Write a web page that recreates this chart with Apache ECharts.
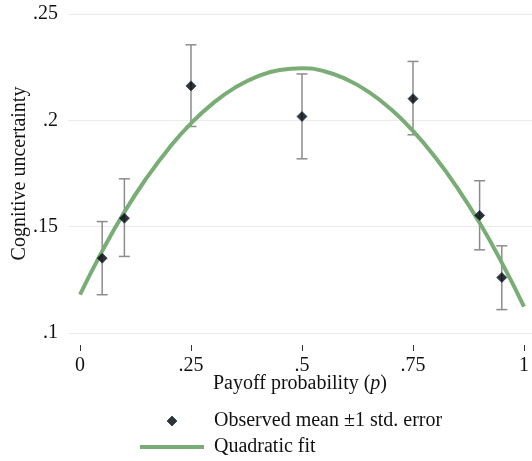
<!DOCTYPE html>
<html>
<head>
<meta charset="utf-8">
<script src="https://cdn.jsdelivr.net/npm/echarts@6/dist/echarts.min.js"></script>
<style>
html,body{margin:0;padding:0;background:#fff;}
#chart{width:532px;height:461px;}
</style>
</head>
<body>
<div id="chart"></div>
<script>
// Observed means with ±1 std. error
const pValues = [0.05, 0.10, 0.25, 0.50, 0.75, 0.90, 0.95];
const meanValues = [0.1352, 0.1540, 0.2162, 0.2018, 0.2102, 0.1553, 0.1261];
const upperValues = [0.1524, 0.1725, 0.2355, 0.2218, 0.2277, 0.1716, 0.1410];
const lowerValues = [0.1180, 0.1360, 0.1971, 0.1819, 0.1932, 0.1391, 0.1110];

// Quadratic fit curve
const fitP = [0, 0.05, 0.10, 0.15, 0.20, 0.25, 0.30, 0.35, 0.40, 0.45, 0.50, 0.55, 0.60, 0.65, 0.70, 0.75, 0.80, 0.85, 0.90, 0.95, 1.00];
const fitValues = [0.1180, 0.1385, 0.1569, 0.1729, 0.1868, 0.1986, 0.2081, 0.2155, 0.2207, 0.2237, 0.2245, 0.2231, 0.2193, 0.2134, 0.2053, 0.1950, 0.1826, 0.1682, 0.1518, 0.1331, 0.1124];

// Tick labels
const xTickValues = [0, 0.25, 0.5, 0.75, 1];
const xTickLabels = ['0', '.25', '.5', '.75', '1'];
const yTickValues = [0.1, 0.15, 0.2, 0.25];
const yTickLabels = ['.1', '.15', '.2', '.25'];

const seriesNames = ['Observed mean \u00b11 std. error', 'Quadratic fit'];
const xTitle = 'Payoff probability ({i|p})';
const yTitle = 'Cognitive uncertainty';

const FONT = 'Liberation Serif';
const FS = 20;

function lookup(values, labels, v) {
  for (let i = 0; i < values.length; i++) {
    if (Math.abs(values[i] - v) < 1e-6) return labels[i];
  }
  return '';
}

const chart = echarts.init(document.getElementById('chart'), null, {renderer: 'canvas'});

const errData = pValues.map((p, i) => [p, lowerValues[i], upperValues[i]]);
const meanData = pValues.map((p, i) => [p, meanValues[i]]);
const fitData = fitP.map((p, i) => [p, fitValues[i]]);

chart.setOption({
  animation: false,
  backgroundColor: '#fff',
  textStyle: {fontFamily: FONT},
  grid: {left: 68, right: 0, top: 14, bottom: 128, containLabel: false, outerBoundsMode: 'none'},
  xAxis: {
    type: 'value',
    min: -0.027,
    max: 1.018,
    offset: 12,
    splitLine: {show: false},
    axisLine: {show: false},
    axisTick: {show: true, length: 6, customValues: xTickValues, lineStyle: {color: '#333', width: 1}},
    axisLabel: {
      customValues: xTickValues,
      margin: 11,
      fontSize: FS,
      fontFamily: FONT,
      color: '#111',
      formatter: v => lookup(xTickValues, xTickLabels, v)
    },
    name: xTitle,
    nameLocation: 'middle',
    nameGap: 29,
    nameMoveOverlap: false,
    nameTextStyle: {
      fontSize: FS, fontFamily: FONT, color: '#111',
      rich: {i: {fontStyle: 'italic', fontSize: FS, fontFamily: FONT, color: '#111'}}
    }
  },
  yAxis: {
    type: 'value',
    min: 0.1,
    max: 0.25,
    interval: 0.05,
    axisLine: {show: false},
    axisTick: {show: false},
    splitLine: {show: true, lineStyle: {color: '#ebebeb', width: 1}},
    axisLabel: {
      margin: 10,
      fontSize: FS,
      fontFamily: FONT,
      color: '#111',
      formatter: v => lookup(yTickValues, yTickLabels, v)
    },
    name: yTitle,
    nameLocation: 'middle',
    nameGap: 38,
    nameMoveOverlap: false,
    nameRotate: 90,
    nameTextStyle: {fontSize: FS, fontFamily: FONT, color: '#111'}
  },
  legend: {
    orient: 'vertical',
    left: 140,
    top: 411,
    padding: 0,
    itemWidth: 64,
    itemHeight: 10,
    itemGap: 6,
    symbolKeepAspect: true,
    data: [
      {name: seriesNames[0], icon: 'path://M5,0L10,5L5,10L0,5Z', itemStyle: {color: '#000', borderColor: '#1f3b63', borderWidth: 1}},
      {name: seriesNames[1], icon: 'path://M0,0L64,0L64,4L0,4Z', itemStyle: {color: '#7aad76', borderWidth: 0}}
    ],
    textStyle: {fontSize: FS, fontFamily: FONT, color: '#111', padding: [0, 0, 0, 5], lineHeight: 20}
  },
  series: [
    {
      type: 'custom',
      name: 'errorbars',
      data: errData,
      z: 1,
      renderItem: function (params, api) {
        const x = api.value(0);
        const lo = api.coord([x, api.value(1)]);
        const hi = api.coord([x, api.value(2)]);
        const hw = 5.5;
        const style = {stroke: '#8c8c8c', lineWidth: 1.5};
        return {
          type: 'group',
          children: [
            {type: 'line', shape: {x1: lo[0], y1: lo[1], x2: hi[0], y2: hi[1]}, style: style},
            {type: 'line', shape: {x1: lo[0] - hw, y1: lo[1], x2: lo[0] + hw, y2: lo[1]}, style: style},
            {type: 'line', shape: {x1: hi[0] - hw, y1: hi[1], x2: hi[0] + hw, y2: hi[1]}, style: style}
          ]
        };
      }
    },
    {
      type: 'line',
      name: seriesNames[1],
      data: fitData,
      smooth: true,
      showSymbol: false,
      symbol: 'none',
      z: 2,
      lineStyle: {color: '#7aad76', width: 4},
      itemStyle: {color: '#7aad76'}
    },
    {
      type: 'scatter',
      name: seriesNames[0],
      data: meanData,
      symbol: 'diamond',
      symbolSize: 10,
      z: 3,
      itemStyle: {color: '#000', borderColor: '#1f3b63', borderWidth: 1}
    }
  ]
});
</script>
</body>
</html>
